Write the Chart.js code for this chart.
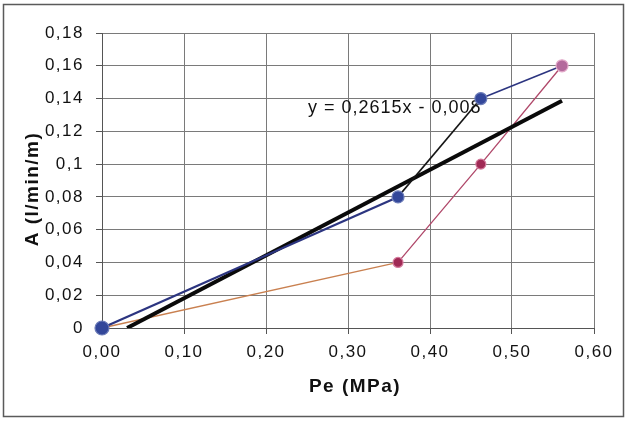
<!DOCTYPE html>
<html>
<head>
<meta charset="utf-8">
<script src="https://cdn.jsdelivr.net/npm/chart.js@4/dist/chart.umd.min.js"></script>
<style>
  html, body { margin: 0; padding: 0; background: #fff; }
  #wrap { width: 628px; height: 421px; position: relative; }
  canvas { display: block; }
</style>
</head>
<body>
<div id="wrap"><canvas id="c" width="628" height="421"></canvas></div>
<script>
// Measured pressure (MPa) and flow per metre for the two runs
const pe = [0, 0.361, 0.462, 0.561];
const flowRun1 = [0, 0.08, 0.14, 0.16];
const flowRun2 = [0, 0.04, 0.10, 0.16];

// Linear fit shown on the chart: y = slope * x + intercept
const trendSlope = 0.2615;
const trendIntercept = -0.008;

// Axis tick labels (decimal comma)
const xTickLabels = ['0,00', '0,10', '0,20', '0,30', '0,40', '0,50', '0,60'];
const yTickLabels = ['0', '0,02', '0,04', '0,06', '0,08', '0,1', '0,12', '0,14', '0,16', '0,18'];

const xTitle = 'Pe (MPa)';
const yTitle = 'A (l/min/m)';

const fmt = v => String(v).replace('.', ',');
const equationText = 'y = ' + fmt(trendSlope) + 'x ' + (trendIntercept < 0 ? '- ' : '+ ') + fmt(Math.abs(trendIntercept).toFixed(3));

// Fit line drawn from where it crosses zero to the last measured pressure
const trendX = [-trendIntercept / trendSlope, Math.max(...pe)];
const trendPoints = trendX.map(x => ({ x: x, y: trendSlope * x + trendIntercept }));

const toPoints = (xs, ys) => xs.map((x, i) => ({ x: x, y: ys[i] }));

const FONT = "'Liberation Sans', Arial, sans-serif";

const decor = {
  id: 'decor',
  beforeDraw(chart) {
    const ctx = chart.ctx;
    ctx.save();
    ctx.fillStyle = '#ffffff';
    ctx.fillRect(0, 0, chart.width, chart.height);
    ctx.strokeStyle = '#5a5a5a';
    ctx.lineWidth = 1.5;
    ctx.strokeRect(3.5, 4.5, 620, 412);
    ctx.restore();
    ctx.letterSpacing = '1.5px';
  },
  beforeDatasetsDraw(chart) {
    const ctx = chart.ctx;
    const a = chart.chartArea;
    ctx.save();
    ctx.letterSpacing = '1px';
    ctx.font = '18px ' + FONT;
    ctx.fillStyle = '#111';
    ctx.textAlign = 'left';
    ctx.textBaseline = 'alphabetic';
    ctx.fillText(equationText, a.left + 206, a.top + 80);
    ctx.restore();
  },
  afterDraw(chart) {
    const ctx = chart.ctx;
    ctx.save();
    ctx.letterSpacing = '1.5px';
    ctx.font = 'bold 19px ' + FONT;
    ctx.fillStyle = '#111';
    ctx.textAlign = 'center';
    ctx.textBaseline = 'middle';
    ctx.fillText(xTitle, 355, 387);
    ctx.translate(33, 189);
    ctx.rotate(-Math.PI / 2);
    ctx.fillText(yTitle, 0, 0);
    ctx.restore();
  }
};

new Chart(document.getElementById('c'), {
  type: 'line',
  data: {
    datasets: [
      {
        label: 'Run 1',
        data: toPoints(pe, flowRun1),
        order: 0,
        clip: false,
        borderWidth: 1.6,
        borderColor: '#2c3580',
        segment: {
          borderColor: c => c.p0DataIndex === 1 ? '#151515' : '#2c3580',
          borderWidth: c => c.p0DataIndex === 0 ? 2.2 : 1.6
        },
        pointRadius: c => c.dataIndex === 0 ? 7 : 6,
        pointBackgroundColor: c => c.dataIndex === 3 ? '#b46a9c' : '#33479a',
        pointBorderColor: c => c.dataIndex === 3 ? '#e2a8c8' : '#6c7cb8',
        pointBorderWidth: 1.2,
        tension: 0
      },
      {
        label: 'Fit',
        data: trendPoints,
        order: 1,
        borderWidth: 4,
        borderColor: '#0a0a0a',
        pointRadius: 0,
        tension: 0
      },
      {
        label: 'Run 2',
        data: toPoints(pe, flowRun2),
        order: 2,
        clip: false,
        borderWidth: 1.3,
        borderColor: '#b0486a',
        segment: {
          borderColor: c => c.p0DataIndex === 0 ? '#c98050' : '#b0486a'
        },
        pointRadius: 5,
        pointBackgroundColor: '#a02a55',
        pointBorderColor: '#d47a9c',
        pointBorderWidth: 1.2,
        tension: 0
      }
    ]
  },
  options: {
    responsive: false,
    animation: false,
    devicePixelRatio: 1,
    layout: { padding: { left: 0, right: 34, top: 33, bottom: 0 } },
    plugins: {
      legend: { display: false },
      tooltip: { enabled: false }
    },
    scales: {
      x: {
        type: 'linear',
        min: 0,
        max: 0.6,
        afterFit: s => { s.height = 93; },
        ticks: {
          stepSize: 0.1,
          padding: 8,
          color: '#111',
          font: { family: FONT, size: 17 },
          callback: (v, i) => xTickLabels[i]
        },
        grid: { color: '#7a7a7a', lineWidth: 1, tickLength: 6, tickColor: '#555' },
        border: { color: '#555', width: 1 }
      },
      y: {
        type: 'linear',
        min: 0,
        max: 0.18,
        afterFit: s => { s.width = 102; },
        ticks: {
          stepSize: 0.02,
          padding: 12,
          color: '#111',
          font: { family: FONT, size: 17 },
          callback: (v, i) => yTickLabels[i]
        },
        grid: { color: '#7a7a7a', lineWidth: 1, tickLength: 6, tickColor: '#555' },
        border: { color: '#555', width: 1 }
      }
    }
  },
  plugins: [decor]
});
</script>
</body>
</html>
